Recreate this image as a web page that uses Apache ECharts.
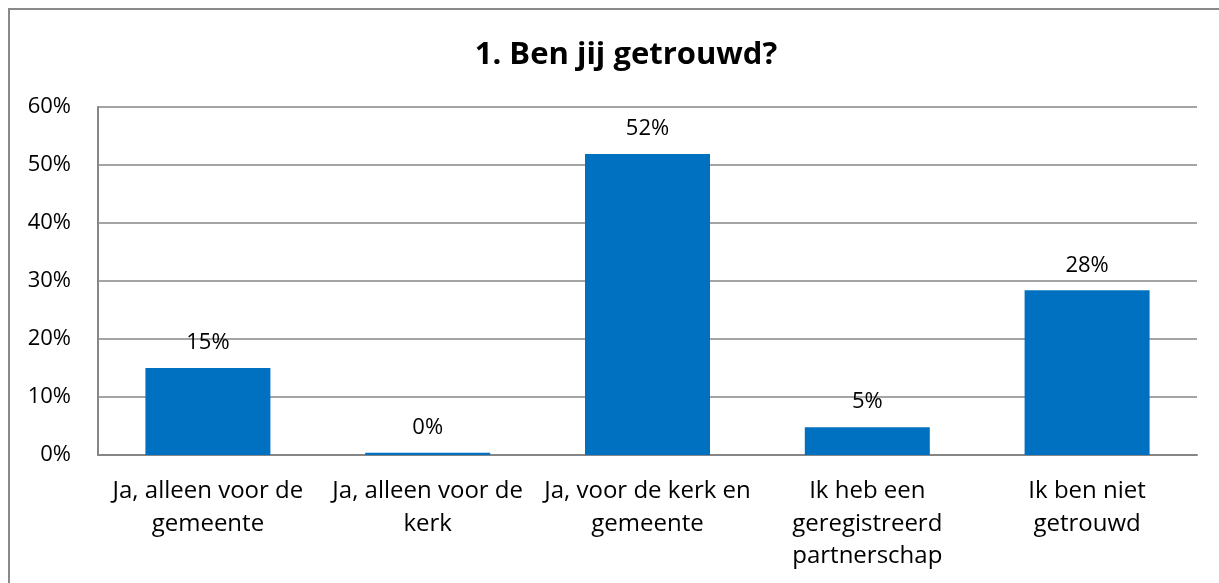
<!DOCTYPE html>
<html>
<head>
<meta charset="utf-8">
<script src="https://cdn.jsdelivr.net/npm/echarts@6/dist/echarts.min.js"></script>
<style>
html,body{margin:0;padding:0;background:#fff;}
#c{width:1219px;height:583px;}
</style>
</head>
<body>
<div id="c"></div>
<script>
const titleText = '1. Ben jij getrouwd?';
const categories = [
  'Ja, alleen voor de\ngemeente',
  'Ja, alleen voor de\nkerk',
  'Ja, voor de kerk en\ngemeente',
  'Ik heb een\ngeregistreerd\npartnerschap',
  'Ik ben niet\ngetrouwd'
];
const values = [15.0, 0.4, 51.9, 4.8, 28.4];
const yTicks = [0, 10, 20, 30, 40, 50, 60];

const font = '"Open Sans", sans-serif';
const chart = echarts.init(document.getElementById('c'), null, {renderer: 'canvas'});
chart.setOption({
  animation: false,
  graphic: [{
    type: 'rect',
    shape: {x: 9, y: 9, width: 1400, height: 900},
    style: {fill: 'none', stroke: '#898989', lineWidth: 2},
    silent: true
  }],
  title: {
    text: titleText,
    left: 621,
    top: 35,
    textAlign: 'center',
    textStyle: {fontFamily: font, fontSize: 31, fontWeight: 'bold', color: '#000'}
  },
  grid: {left: 98, right: 22, top: 107, bottom: 128, containLabel: false},
  xAxis: {
    type: 'category',
    data: categories,
    axisLine: {show: true, lineStyle: {color: '#868686', width: 2}},
    axisTick: {show: false},
    axisLabel: {
      interval: 0,
      margin: 20,
      fontFamily: font,
      fontSize: 24,
      lineHeight: 32.5,
      color: '#000'
    }
  },
  yAxis: {
    type: 'value',
    min: yTicks[0],
    max: yTicks[yTicks.length - 1],
    interval: 10,
    axisLine: {show: true, lineStyle: {color: '#868686', width: 2}},
    axisTick: {show: false},
    splitLine: {lineStyle: {color: '#868686', width: 1.5}},
    axisLabel: {
      margin: 27,
      fontFamily: font,
      fontSize: 22,
      color: '#000',
      formatter: v => v + '%'
    }
  },
  series: [{
    type: 'bar',
    data: values,
    barWidth: 125,
    itemStyle: {color: '#0070C0'},
    label: {
      show: true,
      position: 'top',
      distance: 14,
      fontFamily: font,
      fontSize: 22,
      color: '#000',
      formatter: p => Math.round(p.value) + '%'
    }
  }]
});
</script>
</body>
</html>
